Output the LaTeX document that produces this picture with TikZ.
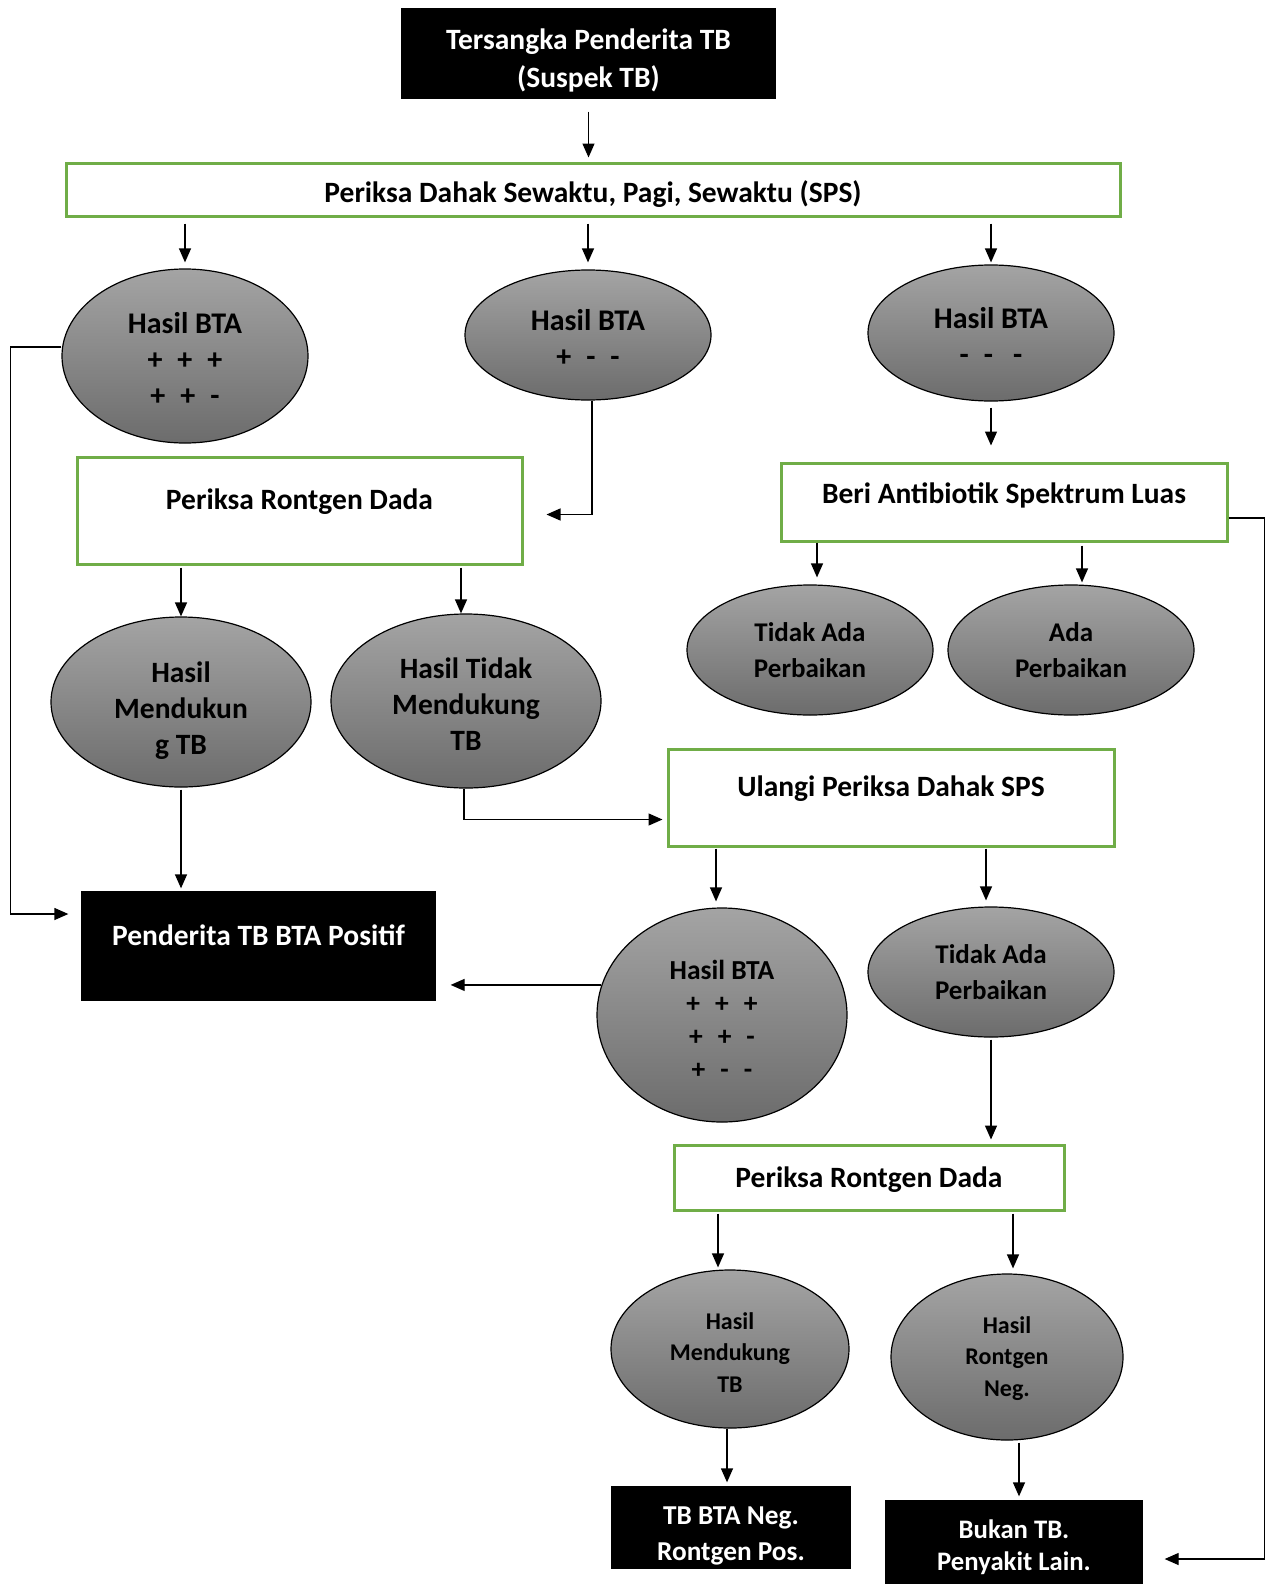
\documentclass[tikz,border=0pt]{standalone}
\usepackage{fontspec}
\setmainfont{Carlito}
\usetikzlibrary{arrows.meta,shapes.geometric}
\definecolor{boxgreen}{HTML}{70AD47}
\definecolor{elltop}{HTML}{A4A4A4}
\definecolor{ellbot}{HTML}{6C6C6C}
\newcommand\gp{\hspace{15pt}}
\newcommand\st[1]{\rule{0pt}{#1}}
\tikzset{
  fs/.style 2 args={font=\fontsize{#1}{#2}\selectfont\bfseries},
  greenbox/.style={fs={29.5}{36}, draw=boxgreen, line width=3pt, fill=white, align=center},
  blackbox/.style={fs={29.5}{36}, fill=black, text=white, align=center},
  hasil/.style={fs={30}{36}, ellipse, draw, line width=1.2pt, top color=elltop, bottom color=ellbot, align=center, inner sep=0pt}
}
\begin{document}
\begin{tikzpicture}[x=1pt, y=-1pt, >={Triangle[width=12pt,length=14pt]}, line width=1.3pt]
\useasboundingbox (0,0) rectangle (1272,1584);

% kotak
\node[blackbox, minimum width=375pt, minimum height=91pt, fs={29.5}{38}] (suspek) at (588.5,53.5) {\st{34pt}Tersangka Penderita TB\\(Suspek TB)};
\node[greenbox, minimum width=1054pt, minimum height=53pt] (sps) at (593,189.5) {\st{30pt}Periksa Dahak Sewaktu, Pagi, Sewaktu (SPS)};
\node[greenbox, minimum width=445pt, minimum height=107pt, text height=18pt, text depth=20pt] (rg1) at (299.5,510.5) {Periksa Rontgen Dada};
\node[greenbox, minimum width=446pt, minimum height=78pt, text height=18pt, text depth=16pt] (beri) at (1004,502) {Beri Antibiotik Spektrum Luas};
\node[greenbox, minimum width=446pt, minimum height=97pt, text height=18pt, text depth=20pt] (ulang) at (891,797.5) {Ulangi Periksa Dahak SPS};
\node[greenbox, minimum width=390pt, minimum height=65pt] (rg2) at (869,1177.5) {\st{24pt}Periksa Rontgen Dada};
\node[blackbox, minimum width=355pt, minimum height=110pt, text height=18pt, text depth=20pt] (pos) at (258.5,946) {Penderita TB BTA Positif};
\node[blackbox, minimum width=240pt, minimum height=83pt, fs={27.3}{36}] (neg) at (731,1527.5) {\st{34pt}TB BTA Neg.\\Rontgen Pos.};
\node[blackbox, minimum width=258pt, minimum height=84pt, fs={26.7}{32}] (bukan) at (1014,1542) {\st{30pt}Bukan TB.\\Penyakit Lain.};

% elips
\node[hasil, minimum width=246pt, minimum height=174pt] (e1) at (185,356) {\st{27pt}Hasil BTA\\+\gp+\gp+\\+\gp+\gp-};
\node[hasil, minimum width=246pt, minimum height=130pt] (e2) at (588,335) {\st{27pt}Hasil BTA\\+\gp-\gp-};
\node[hasil, minimum width=246pt, minimum height=136pt] (e3) at (991,333) {\st{27pt}Hasil BTA\\-\gp-\gp\,-};
\node[hasil, fs={29.5}{36}, minimum width=260pt, minimum height=170pt] (hm1) at (181,702) {\st{37pt}Hasil\\Mendukun\\g TB};
\node[hasil, fs={29.5}{36}, minimum width=270pt, minimum height=174pt] (htm) at (466,701) {\st{27pt}Hasil Tidak\\Mendukung\\TB};
\node[hasil, fs={27}{36}, minimum width=246pt, minimum height=130pt] (tap1) at (810,650) {Tidak Ada\\Perbaikan};
\node[hasil, fs={27}{36}, minimum width=246pt, minimum height=130pt] (ap) at (1071,650) {Ada\\Perbaikan};
\node[hasil, fs={27.5}{33}, minimum width=250pt, minimum height=214pt] (bta3) at (722,1015) {\st{27pt}Hasil BTA\\+\gp+\gp+\\+\gp+\gp-\\+\gp-\gp-};
\node[hasil, fs={27}{36}, minimum width=246pt, minimum height=130pt] (tap2) at (991,972) {Tidak Ada\\Perbaikan};
\node[hasil, fs={24}{31.5}, minimum width=238pt, minimum height=158pt] (hm2) at (730,1349) {\st{23pt}Hasil\\Mendukung\\TB};
\node[hasil, fs={24}{31.5}, minimum width=232pt, minimum height=166pt] (hrn) at (1007,1357) {\st{20pt}Hasil\\Rontgen\\Neg.};

% panah
\draw[->, shorten <=12pt, shorten >=4pt] (suspek.south) -- (suspek.south |- sps.north);
\foreach \e/\g in {e1/6, e2/7, e3/2}
  \draw[->, shorten <=6pt, shorten >=\g pt] (sps.south -| \e.north) -- (\e.north);
\draw[->, shorten <=6pt, shorten >=16pt] (e3.south) -- (e3.south |- beri.north);
\draw[->, shorten >=12pt] ([yshift=9pt]e1.west) -- ++(-51,0) |- ([yshift=32pt]pos.west);
\draw[->, shorten >=23pt] ([xshift=4pt]e2.south) |- ([yshift=-4pt]rg1.east);
\draw[->, shorten <=2pt] (rg1.south -| hm1.north) -- (hm1.north);
\draw[->, shorten <=2pt] (rg1.south -| htm.north) ++(-5,0) -- ([xshift=-5pt]htm.north);
\draw[->, shorten <=2pt, shorten >=2pt] (hm1.south) -- (hm1.south |- pos.north);
\draw[->, shorten >=4pt] ([xshift=-2pt]htm.south) |- ([yshift=-22pt]ulang.west);
\draw[->, shorten >=7pt] (beri.south -| tap1.north) ++(7,0) -- ([xshift=7pt]tap1.north);
\draw[->, shorten <=3pt, shorten >=2pt] (beri.south -| ap.north) ++(11,0) -- ([xshift=11pt]ap.north);
\draw[->, shorten >=21pt] ([yshift=-16pt]beri.east) -- ++(36,0) |- ([yshift=-17pt]bukan.east);
\draw[->, shorten <=1pt, shorten >=6pt] (ulang.south -| bta3.north) ++(-6,0) -- ([xshift=-6pt]bta3.north);
\draw[->, shorten <=1pt, shorten >=6pt] (ulang.south -| tap2.north) ++(-5,0) -- ([xshift=-5pt]tap2.north);
\draw[->, shorten >=14pt] (bta3.166) -- (pos.east |- bta3.166);
\draw[->, shorten <=2pt, shorten >=4pt] (tap2.south) -- (tap2.south |- rg2.north);
\draw[->, shorten <=2pt, shorten >=2pt] (rg2.south -| hm2.north) ++(-12,0) -- ([xshift=-12pt]hm2.north);
\draw[->, shorten <=2pt, shorten >=5pt] (rg2.south -| hrn.north) ++(6,0) -- ([xshift=6pt]hrn.north);
\draw[->, shorten >=3pt] ([xshift=-3pt]hm2.south) -- ([xshift=-3pt]hm2.south |- neg.north);
\draw[->, shorten <=2pt, shorten >=3pt] ([xshift=12pt]hrn.south) -- ([xshift=12pt]hrn.south |- bukan.north);
\end{tikzpicture}
\end{document}
